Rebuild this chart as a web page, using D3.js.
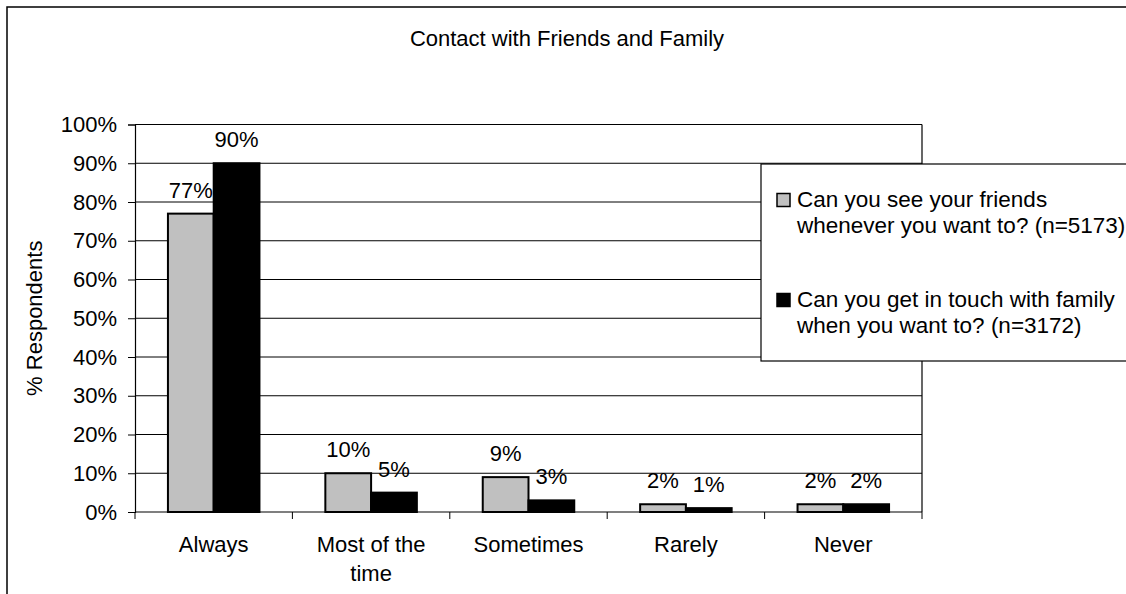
<!DOCTYPE html>
<html>
<head>
<meta charset="utf-8">
<script src="https://cdn.jsdelivr.net/npm/d3@7/dist/d3.min.js"></script>
<style>
  html, body { margin: 0; padding: 0; background: #fff; }
  svg { display: block; font-family: Arial, "Liberation Sans", sans-serif; }
</style>
</head>
<body>
<svg id="chart" width="1126" height="594"></svg>
<script>
// Survey answers, one group of bars per answer
const categories = ["Always", "Most of the time", "Sometimes", "Rarely", "Never"];
const seriesNames = [
  "Can you see your friends whenever you want to? (n=5173)",
  "Can you get in touch with family when you want to? (n=3172)"
];
const friendsValues = [77, 10, 9, 2, 2];
const familyValues = [90, 5, 3, 1, 2];
const yTicks = [0, 10, 20, 30, 40, 50, 60, 70, 80, 90, 100];
const seriesColors = ["#c0c0c0", "#000000"];

const svg = d3.select("#chart");
const fontSize = 22;

// Outer chart frame (runs past the right and bottom edges)
svg.append("rect")
  .attr("x", 7).attr("y", 7)
  .attr("width", 1200).attr("height", 700)
  .attr("fill", "#fff").attr("stroke", "#000").attr("stroke-width", 1.5);

// Title
svg.append("text")
  .attr("x", 567).attr("y", 46)
  .attr("text-anchor", "middle")
  .style("font-size", fontSize + "px")
  .text("Contact with Friends and Family");

const plot = { left: 135, right: 922, top: 124.5, bottom: 512 };

const x = d3.scaleBand().domain(categories).range([plot.left, plot.right]).padding(0);
const xs = d3.scaleBand().domain([0, 1]).range([0, x.bandwidth()]).paddingInner(0).paddingOuter(0.72);
const y = d3.scaleLinear().domain([0, 100]).range([plot.bottom, plot.top]);

// Horizontal gridlines
svg.append("g")
  .selectAll("line")
  .data(yTicks.filter(d => d > 0))
  .join("line")
  .attr("x1", plot.left).attr("x2", plot.right)
  .attr("y1", d => y(d)).attr("y2", d => y(d))
  .attr("stroke", "#000").attr("stroke-width", 1);

// Right edge of plot area
svg.append("line")
  .attr("x1", plot.right).attr("x2", plot.right)
  .attr("y1", plot.top).attr("y2", plot.bottom)
  .attr("stroke", "#000").attr("stroke-width", 1.2);

// Bars
const rows = categories.map((c, i) => ({ cat: c, vals: [friendsValues[i], familyValues[i]] }));
const groups = svg.append("g").selectAll("g")
  .data(rows)
  .join("g")
  .attr("transform", d => `translate(${x(d.cat)},0)`);

groups.selectAll("rect")
  .data(d => d.vals.map((v, s) => ({ v, s })))
  .join("rect")
  .attr("x", d => xs(d.s))
  .attr("width", xs.bandwidth())
  .attr("y", d => y(d.v))
  .attr("height", d => y(0) - y(d.v))
  .attr("fill", d => seriesColors[d.s])
  .attr("stroke", "#000").attr("stroke-width", 2);

// Value labels above each bar
groups.selectAll("text")
  .data(d => d.vals.map((v, s) => ({ v, s })))
  .join("text")
  .attr("x", d => xs(d.s) + xs.bandwidth() / 2)
  .attr("y", d => y(d.v) - 16)
  .attr("text-anchor", "middle")
  .style("font-size", fontSize + "px")
  .text(d => d.v + "%");

// Y axis
const yAxis = d3.axisLeft(y).tickValues(yTicks).tickFormat(d => d + "%").tickSize(7).tickPadding(11);
const gy = svg.append("g").attr("transform", `translate(${plot.left},0)`).call(yAxis);
gy.select(".domain").attr("stroke", "#000").attr("stroke-width", 1.2);
gy.selectAll(".tick line").attr("stroke", "#000");
gy.selectAll(".tick text").style("font-size", fontSize + "px").attr("fill", "#000")
  .attr("font-family", "Arial, 'Liberation Sans', sans-serif");

// X axis baseline with ticks at category boundaries
svg.append("line")
  .attr("x1", plot.left).attr("x2", plot.right)
  .attr("y1", plot.bottom).attr("y2", plot.bottom)
  .attr("stroke", "#000").attr("stroke-width", 1.2);
const boundaries = categories.map(c => x(c)).concat([plot.right]);
svg.append("g").selectAll("line")
  .data(boundaries)
  .join("line")
  .attr("x1", d => d).attr("x2", d => d)
  .attr("y1", plot.bottom).attr("y2", plot.bottom + 7)
  .attr("stroke", "#000");

// Category labels (wrapped)
const catLines = { "Most of the time": ["Most of the", "time"] };
svg.append("g").selectAll("text")
  .data(categories)
  .join("text")
  .attr("x", d => x(d) + x.bandwidth() / 2)
  .attr("y", 552)
  .attr("text-anchor", "middle")
  .style("font-size", fontSize + "px")
  .each(function(d) {
    const lines = catLines[d] || [d];
    d3.select(this).selectAll("tspan")
      .data(lines)
      .join("tspan")
      .attr("x", x(d) + x.bandwidth() / 2)
      .attr("dy", (l, i) => i === 0 ? 0 : 29)
      .text(l => l);
  });

// Y axis title
svg.append("text")
  .attr("transform", `translate(42,${(plot.top + plot.bottom) / 2}) rotate(-90)`)
  .attr("text-anchor", "middle")
  .style("font-size", fontSize + "px")
  .text("% Respondents");

// Legend
const legend = svg.append("g");
legend.append("rect")
  .attr("x", 761).attr("y", 164)
  .attr("width", 420).attr("height", 197)
  .attr("fill", "#fff").attr("stroke", "#000").attr("stroke-width", 1.2);

const legendLines = [
  ["Can you see your friends", "whenever you want to? (n=5173)"],
  ["Can you get in touch with family", "when you want to? (n=3172)"]
];
const legendItems = legend.selectAll("g.item")
  .data(seriesNames)
  .join("g")
  .attr("class", "item")
  .attr("transform", (d, i) => `translate(0,${i * 100})`);

legendItems.append("rect")
  .attr("x", 777).attr("y", 193.5)
  .attr("width", 13).attr("height", 13)
  .attr("fill", (d, i) => seriesColors[i])
  .attr("stroke", "#000").attr("stroke-width", 1.5);

legendItems.append("text")
  .attr("y", 207)
  .style("font-size", "22.5px")
  .each(function(d, i) {
    d3.select(this).selectAll("tspan")
      .data(legendLines[i])
      .join("tspan")
      .attr("x", 797)
      .attr("dy", (l, j) => j === 0 ? 0 : 26)
      .text(l => l);
  });
</script>
</body>
</html>
